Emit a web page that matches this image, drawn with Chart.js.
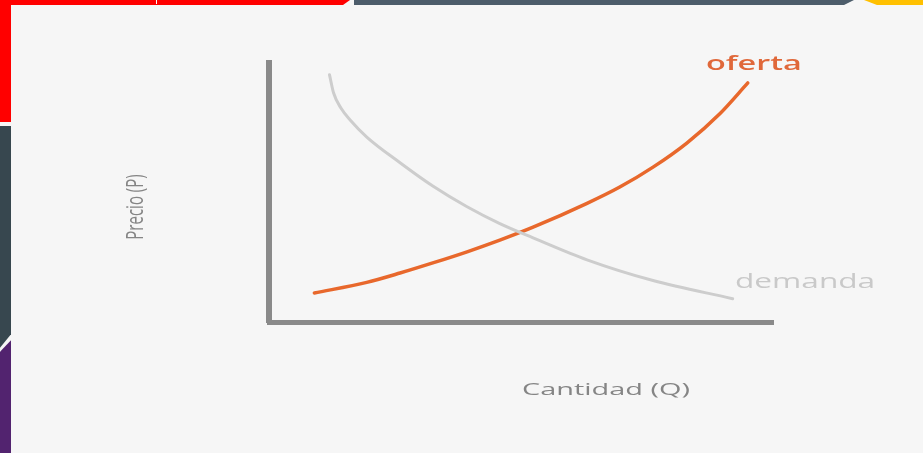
<!DOCTYPE html>
<html>
<head>
<meta charset="utf-8">
<script src="https://cdn.jsdelivr.net/npm/chart.js@4/dist/chart.umd.min.js"></script>
<style>
  html, body { margin: 0; padding: 0; background: #f6f6f6; }
  #wrap { position: relative; width: 923px; height: 453px; overflow: hidden; }
  canvas { position: absolute; left: 0; top: 0; }
  .deco { position: absolute; }
</style>
</head>
<body>
<div id="wrap">
  <!-- bordes decorativos de la diapositiva -->
  <div class="deco" style="left:0;top:0;width:350px;height:5px;background:#ff0000;clip-path:polygon(0 0,100% 0,98% 100%,0 100%)"></div>
  <div class="deco" style="left:156px;top:0;width:1px;height:4px;background:#fff"></div>
  <div class="deco" style="left:0;top:0;width:11px;height:122px;background:#ff0000"></div>
  <div class="deco" style="left:0;top:126px;width:11px;height:224px;background:#37474f;clip-path:polygon(0 0,100% 0,100% 93%,0 99%)"></div>
  <div class="deco" style="left:0;top:338px;width:11px;height:115px;background:#52236f;clip-path:polygon(0 12%,100% 2%,100% 100%,0 100%)"></div>
  <div class="deco" style="left:354px;top:0;width:500px;height:5px;background:#4d5d6b;clip-path:polygon(0 0,100% 0,98% 100%,0 100%)"></div>
  <div class="deco" style="left:864px;top:0;width:59px;height:5px;background:#ffc000;clip-path:polygon(0 0,100% 0,100% 100%,22% 100%)"></div>
  <canvas id="grafico" width="923" height="453"></canvas>
</div>
<script>
// curva de demanda (cantidad, precio)
const demandaQ = [12, 12.8, 14.3, 16.1, 19.4, 26, 32.5, 39.3, 45.8, 52.4, 63.1, 76.2, 92];
const demandaP = [95.5, 88.5, 82.5, 78, 71.4, 61.5, 52.5, 44.5, 38, 32.5, 24, 16, 9];

// curva de oferta (cantidad, precio)
const ofertaQ = [9, 19.4, 26, 32.5, 39.3, 45.8, 52.4, 63.1, 69.6, 76.2, 82.9, 89.5, 95];
const ofertaP = [11.2, 15.3, 18.9, 22.8, 27.1, 31.6, 36.6, 45.8, 52.1, 59.8, 69.1, 80.5, 92.3];

const etiquetaX = "Cantidad (Q)";
const etiquetaY = "Precio (P)";
const nombreOferta = "oferta";
const nombreDemanda = "demanda";

const toPoints = (qs, ps) => qs.map((q, i) => ({ x: q, y: ps[i] }));

// textos estirados en horizontal como en la diapositiva
const textos = {
  id: "textos",
  afterDraw(chart) {
    const { ctx, chartArea: a } = chart;
    const dibujar = (txt, x, y, font, color, sx) => {
      ctx.save();
      ctx.translate(x, y);
      ctx.scale(sx, 1);
      ctx.font = font;
      ctx.fillStyle = color;
      ctx.textAlign = "left";
      ctx.textBaseline = "alphabetic";
      ctx.fillText(txt, 0, 0);
      ctx.restore();
    };
    dibujar(nombreOferta, a.right - 67, a.top + 7, "600 20px 'Open Sans'", "#e0683a", 1.62);
    dibujar(nombreDemanda, a.right - 38, a.bottom - 34, "20px 'Open Sans'", "#c9c9c9", 1.58);
    dibujar(etiquetaX, a.left + 253, a.bottom + 73, "17px 'Open Sans'", "#858585", 1.7);

    ctx.save();
    ctx.translate(136, 207);
    ctx.rotate(-Math.PI / 2);
    ctx.scale(1, 1.6);
    ctx.font = "15px 'Open Sans'";
    ctx.fillStyle = "#858585";
    ctx.textAlign = "center";
    ctx.textBaseline = "middle";
    ctx.fillText(etiquetaY, 0, 0);
    ctx.restore();
  }
};

const ctx = document.getElementById("grafico").getContext("2d");
new Chart(ctx, {
  type: "scatter",
  data: {
    datasets: [{
      label: nombreDemanda,
      data: toPoints(demandaQ, demandaP),
      showLine: true,
      borderColor: "#cdcdcd",
      borderWidth: 3,
      borderCapStyle: "round",
      cubicInterpolationMode: "monotone",
      pointRadius: 0
    }, {
      label: nombreOferta,
      data: toPoints(ofertaQ, ofertaP),
      showLine: true,
      borderColor: "#e8682c",
      borderWidth: 3.5,
      borderCapStyle: "round",
      cubicInterpolationMode: "monotone",
      pointRadius: 0
    }]
  },
  options: {
    responsive: false,
    animation: false,
    layout: { autoPadding: false, padding: { left: 269, top: 63, right: 150, bottom: 131 } },
    plugins: { legend: { display: false }, tooltip: { enabled: false } },
    scales: {
      x: {
        type: "linear", min: 0, max: 100,
        grid: { display: false, drawTicks: false },
        ticks: { display: false },
        border: { display: true, color: "#8a8a8a", width: 5 }
      },
      y: {
        type: "linear", min: 0, max: 100,
        grid: { display: false, drawTicks: false },
        ticks: { display: false },
        border: { display: true, color: "#8a8a8a", width: 6 }
      }
    }
  },
  plugins: [textos]
});
</script>
</body>
</html>
